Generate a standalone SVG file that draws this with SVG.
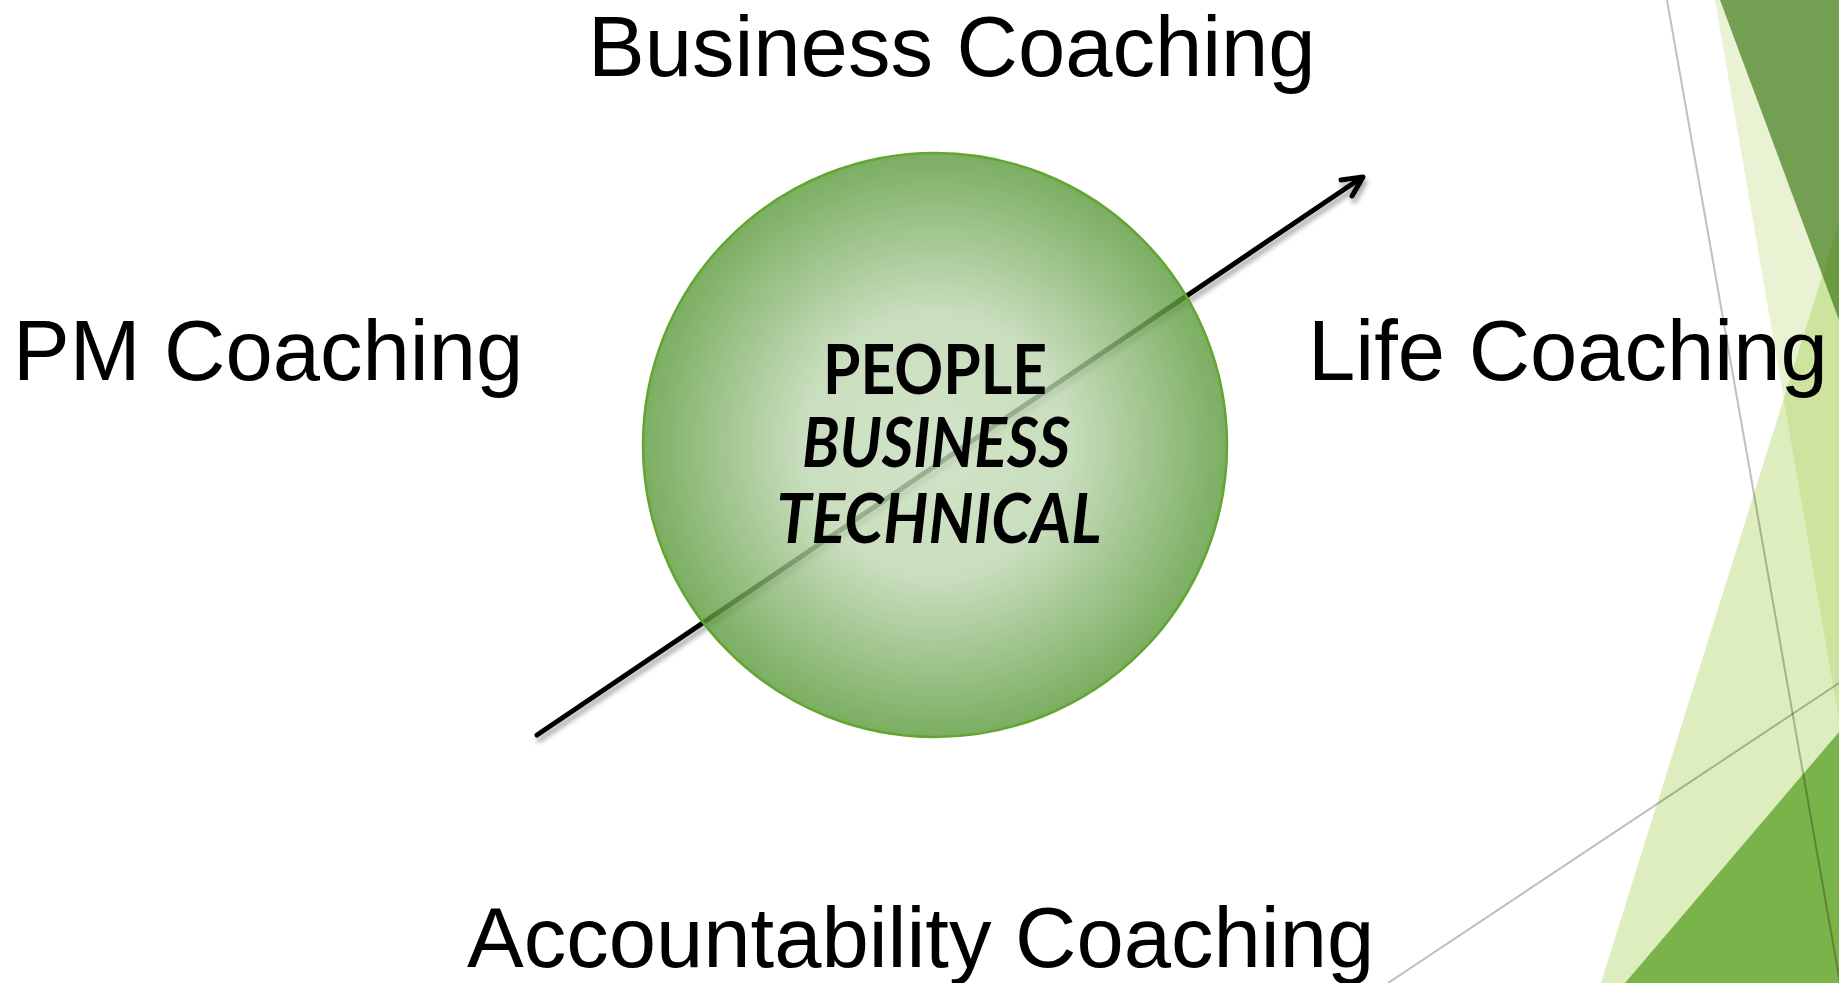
<svg xmlns="http://www.w3.org/2000/svg" width="1839" height="983" viewBox="0 0 1839 983">
<style>
.lbl{font-family:"Liberation Sans",Arial,sans-serif;font-size:85px;fill:#000}
.inner{font-family:Lato,"Open Sans",sans-serif;font-weight:bold;font-size:68px;fill:#000;text-anchor:middle}
.thin{stroke:#000;stroke-opacity:0.25;stroke-width:2;fill:none}
</style>
<defs>
<radialGradient id="cg" cx="0.5" cy="0.5" r="0.5">
<stop offset="0" stop-color="#c6ddba"/>
<stop offset="0.45" stop-color="#bcd6ae"/>
<stop offset="1" stop-color="#5a9a3a"/>
</radialGradient>
<filter id="sh" x="-10%" y="-10%" width="120%" height="130%">
<feGaussianBlur in="SourceAlpha" stdDeviation="2.5"/>
<feOffset dx="2" dy="5" result="b"/>
<feComponentTransfer><feFuncA type="linear" slope="0.35"/></feComponentTransfer>
<feMerge><feMergeNode/><feMergeNode in="SourceGraphic"/></feMerge>
</filter>
</defs>
<rect width="1839" height="983" fill="#fff"/>
<g id="decor">
<polygon points="1715,0 1839,0 1839,720" fill="#90c226" fill-opacity="0.2"/>
<polygon points="1601,983 1839,222 1839,983" fill="#90c226" fill-opacity="0.3"/>
<polygon points="1720,0 1839,0 1839,320" fill="#3a7412" fill-opacity="0.67"/>
<polygon points="1625,983 1839,732 1839,983" fill="#7ab34a"/>
<line class="thin" x1="1667" y1="0" x2="1840" y2="983"/>
<line class="thin" x1="1388" y1="983" x2="1839" y2="683"/>
</g>
<g id="connectors">
<g filter="url(#sh)" stroke="#000" stroke-width="5" stroke-linecap="round" stroke-linejoin="round" fill="none">
<line x1="537" y1="735" x2="1361" y2="178"/>
<polyline points="1341,180 1363,177 1352,196"/>
</g>
</g>
<g id="hub">
<circle cx="935" cy="445" r="292" fill="url(#cg)" fill-opacity="0.8" stroke="#62a630" stroke-width="2.5"/>
<text class="inner" x="935" y="394" textLength="224" lengthAdjust="spacingAndGlyphs">PEOPLE</text>
<text class="inner" x="936" y="467" font-style="italic" textLength="268" lengthAdjust="spacingAndGlyphs">BUSINESS</text>
<text class="inner" x="939" y="543" font-style="italic" textLength="325" lengthAdjust="spacingAndGlyphs">TECHNICAL</text>
</g>
<g id="business"><text class="lbl" x="588" y="76">Business Coaching</text></g>
<g id="pm"><text class="lbl" x="13" y="380">PM Coaching</text></g>
<g id="life"><text class="lbl" x="1308" y="380">Life Coaching</text></g>
<g id="accountability"><text class="lbl" x="467" y="967">Accountability Coaching</text></g>
</svg>
